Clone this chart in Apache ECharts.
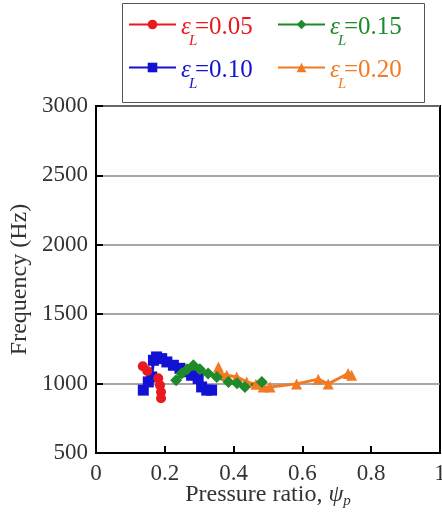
<!DOCTYPE html>
<html>
<head>
<meta charset="utf-8">
<script src="https://cdn.jsdelivr.net/npm/echarts@6/dist/echarts.min.js"></script>
<style>html,body{margin:0;padding:0;background:#fff;}#chart{width:442px;height:515px;}</style>
</head>
<body>
<div id="chart"></div>
<script>
// ---- data ----
const seriesNames = ['0.05', '0.10', '0.15', '0.20'];
const eps05X = [0.136, 0.149, 0.181, 0.186, 0.189, 0.189];
const eps05Y = [1125, 1091, 1039, 988, 940, 895];
const eps10X = [0.1375, 0.152, 0.162, 0.167, 0.176, 0.191, 0.206, 0.225, 0.244, 0.262, 0.278, 0.297, 0.307, 0.322, 0.336];
const eps10Y = [953, 1012, 1048, 1168, 1192, 1180, 1156, 1132, 1110, 1085, 1060, 1037, 976, 953, 953];
const eps15X = [0.233, 0.249, 0.265, 0.283, 0.302, 0.326, 0.351, 0.385, 0.41, 0.433, 0.482];
const eps15Y = [1024, 1073, 1103, 1132, 1103, 1073, 1048, 1012, 1003, 976, 1012];
const eps20X = [0.356, 0.36, 0.38, 0.409, 0.438, 0.465, 0.486, 0.506, 0.583, 0.646, 0.675, 0.733, 0.743];
const eps20Y = [1120, 1073, 1060, 1048, 1012, 996, 976, 976, 998, 1032, 998, 1073, 1060];
const xMin = 0, xMax = 1, xStep = 0.2;
const yMin = 500, yMax = 3000, yStep = 500;

const colors = { '0.05': '#e8191f', '0.10': '#1212d4', '0.15': '#1f8a2a', '0.20': '#f27a22' };
const symbols = { '0.05': 'circle', '0.10': 'rect', '0.15': 'diamond', '0.20': 'triangle' };
const symSize = { '0.05': 10, '0.10': 11, '0.15': 12, '0.20': 11 };

const zip = (xs, ys) => xs.map((x, i) => [x, ys[i]]);
const dataMap = {
  '0.05': zip(eps05X, eps05Y),
  '0.10': zip(eps10X, eps10Y),
  '0.15': zip(eps15X, eps15Y),
  '0.20': zip(eps20X, eps20Y)
};

const FONT = "'Liberation Serif', 'DejaVu Serif', serif";
const TXT = '#333';

function mkSeries(name) {
  return {
    name: name, type: 'line', data: dataMap[name],
    symbol: symbols[name], symbolSize: symSize[name],
    lineStyle: { color: colors[name], width: 3 },
    itemStyle: { color: colors[name] },
    animation: false
  };
}

const rich = {
  e: { fontFamily: FONT, fontSize: 25, fontStyle: 'italic', lineHeight: 24, width: 8, padding: [6, 0, 0, 0] },
  s: { fontFamily: FONT, fontSize: 15, fontStyle: 'italic', lineHeight: 15, width: 6, padding: [34, 0, 0, 0] },
  n: { fontFamily: FONT, fontSize: 25, lineHeight: 24, padding: [6, 0, 0, 0] }
};
function mkLegend(name, left, top) {
  return {
    show: true, left: left, top: top, padding: 0,
    itemWidth: 47, itemHeight: 12,
    data: [{ name: name, textStyle: { color: colors[name], fontFamily: FONT } }],
    formatter: n => '{e|ε}{s|L}{n|=' + n + '}',
    textStyle: { rich: rich, fontFamily: FONT, fontSize: 25 }
  };
}

const chart = echarts.init(document.getElementById('chart'), null, { renderer: 'canvas' });
chart.setOption({
  backgroundColor: '#fff',
  animation: false,
  grid: { left: 96, right: 2, top: 106, bottom: 62, containLabel: false, outerBoundsMode: 'none',
          show: true, borderColor: '#000', borderWidth: 2, backgroundColor: 'transparent' },
  legend: [
    mkLegend('0.05', 128, 0),
    mkLegend('0.15', 277, 0),
    mkLegend('0.10', 128, 43),
    mkLegend('0.20', 277, 43)
  ],
  graphic: [{
    type: 'rect', left: 120, top: 1, silent: true,
    shape: { width: 302, height: 99 },
    style: { fill: 'none', stroke: '#555', lineWidth: 1 }
  }],
  xAxis: {
    type: 'value', min: xMin, max: xMax, interval: xStep,
    name: '{t|Pressure ratio, }{p|ψ}{s|p}', nameLocation: 'middle', nameGap: 30, nameMoveOverlap: false,
    nameTextStyle: { fontFamily: FONT, fontSize: 24, color: TXT,
      rich: { t: { fontFamily: FONT, fontSize: 24, color: TXT, lineHeight: 24 },
              p: { fontFamily: FONT, fontSize: 24, fontStyle: 'italic', color: TXT, lineHeight: 24 },
              s: { fontFamily: FONT, fontSize: 15, fontStyle: 'italic', color: TXT, lineHeight: 15, padding: [12, 0, 0, 0] } } },
    axisLine: { show: true, onZero: false, lineStyle: { color: '#000', width: 2 } },
    axisTick: { show: true, inside: true, length: 7, lineStyle: { color: '#000', width: 2 } },
    axisLabel: { fontFamily: FONT, fontSize: 23, color: TXT, margin: 9, alignMinLabel: 'center', alignMaxLabel: 'center', hideOverlap: false },
    splitLine: { show: false }
  },
  yAxis: {
    type: 'value', min: yMin, max: yMax, interval: yStep,
    name: 'Frequency (Hz)', nameLocation: 'middle', nameGap: 64, nameRotate: 90, nameMoveOverlap: false,
    nameTextStyle: { fontFamily: FONT, fontSize: 24, color: TXT },
    axisLine: { show: true, onZero: false, lineStyle: { color: '#000', width: 2 } },
    axisTick: { show: true, inside: true, length: 7, lineStyle: { color: '#000', width: 2 } },
    axisLabel: { fontFamily: FONT, fontSize: 23, color: TXT, margin: 8, formatter: v => String(v) },
    splitLine: { show: true, lineStyle: { color: '#8a8a8a', width: 1.5 } }
  },
  series: [mkSeries('0.20'), mkSeries('0.10'), mkSeries('0.15'), mkSeries('0.05')]
});
</script>
</body>
</html>
